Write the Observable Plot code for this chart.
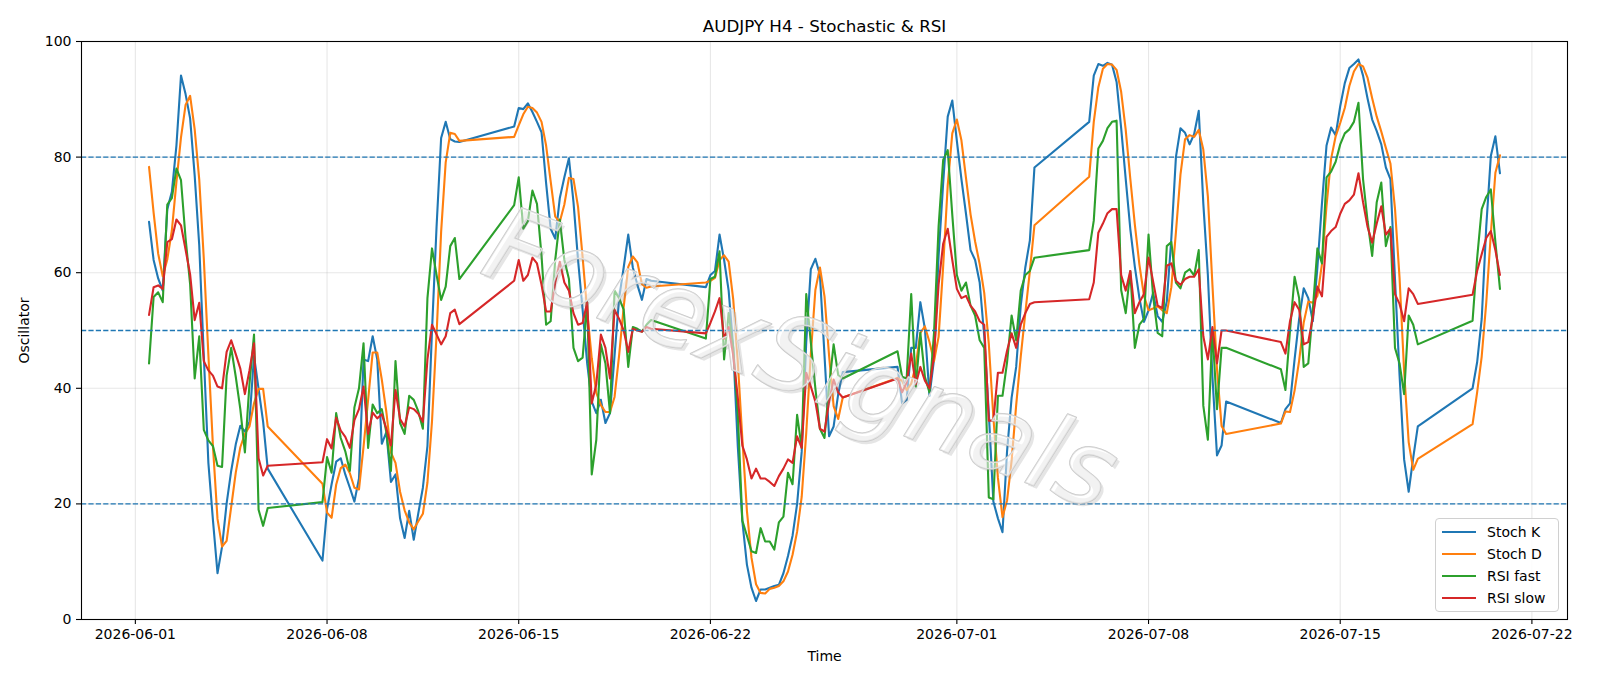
<!DOCTYPE html>
<html>
<head>
<meta charset="utf-8">
<script src="https://cdn.jsdelivr.net/npm/d3@7"></script>
<script src="https://cdn.jsdelivr.net/npm/@observablehq/plot@0.6"></script>
<style>
  html, body { margin: 0; padding: 0; background: white; }
  #wrap { position: relative; width: 1600px; height: 686px; font-family: "DejaVu Sans", sans-serif; }
  #legend { position: absolute; left: 1435px; top: 518px; width: 124px; height: 94px;
    border: 1px solid #d0d0d0; border-radius: 4px; background: rgba(255,255,255,0.85); box-sizing: border-box; }
  .row { position: absolute; left: 0; height: 20px; width: 124px; }
  .swatch { position: absolute; left: 6px; top: 9px; width: 34px; height: 0; border-top: 2px solid; }
  .lab { position: absolute; left: 51px; top: 0; font-size: 14px; line-height: 20px; color: #000; white-space: nowrap; }
</style>
</head>
<body>
<div id="wrap"></div>
<script>
// ---- data ----
const title = "AUDJPY H4 - Stochastic & RSI";
const yLabel = "Oscillator";
const xLabel = "Time";
const seriesNames = ["Stoch K", "Stoch D", "RSI fast", "RSI slow"];
const seriesColors = ["#1f77b4", "#ff7f0e", "#2ca02c", "#d62728"];
const levels = [20, 50, 80];
const yTicks = [0, 20, 40, 60, 80, 100];
const tickDates = ["2026-06-01", "2026-06-08", "2026-06-15", "2026-06-22", "2026-07-01", "2026-07-08", "2026-07-15", "2026-07-22"];
// H4 trading sessions: [first bar, number of bars]
const sessions = [
  ["2026-06-01T12:00Z", 27], ["2026-06-07T20:00Z", 31], ["2026-06-14T20:00Z", 31],
  ["2026-06-21T20:00Z", 31], ["2026-06-28T20:00Z", 31], ["2026-07-05T20:00Z", 31],
  ["2026-07-12T20:00Z", 31], ["2026-07-19T20:00Z", 7]
];
const stochK = [
  68.8, 62.2, 59.0, 56.9, 71.0, 74.0, 82.0, 94.1, 90.9, 86.7,
  76.8, 64.7, 45.6, 27.1, 17.2, 8.0, 12.6, 20.1, 25.7, 30.3,
  33.5, 32.5, 34.2, 45.6, 39.9, 34.2, 26.1,
  10.2, 19.1, 23.4, 27.3, 27.9, 25.1, 22.8, 20.4, 24.4, 45.0,
  44.7, 49.0, 45.0, 30.4, 32.4, 23.8, 25.1, 17.5, 14.1, 18.8,
  13.8, 18.4, 22.8, 30.0, 50.0, 68.0, 83.3, 86.1, 83.1, 82.7, 82.6,
  85.3, 88.5, 88.3, 89.3, 87.8, 86.1, 84.3, 75.5, 67.6, 65.9,
  72.9, 76.5, 79.8, 72.2, 62.2, 53.6, 44.3, 37.7, 35.7, 38.0,
  34.0, 35.7, 45.7, 55.6, 60.9, 66.6, 60.9, 57.9, 55.3, 58.9, 58.6,
  57.5, 59.6, 60.3, 66.6, 62.2, 56.9, 47.0, 30.0, 17.0, 9.5,
  5.5, 3.2, 5.2, 5.2, 5.5, 5.8, 6.0, 8.0, 11.0, 14.5,
  20.0, 29.0, 48.0, 60.6, 62.4, 59.6, 45.7, 31.7, 33.4, 39.0, 42.8,
  43.7, 37.4, 38.0, 47.0, 47.0, 54.9, 50.3, 38.7, 45.0, 62.9,
  75.5, 87.0, 89.8, 82.8, 76.2, 70.2, 63.9, 62.2, 58.3, 49.0,
  35.7, 20.4, 17.5, 15.1, 29.1, 38.4, 43.7, 54.3, 60.9, 65.6, 78.2,
  86.1, 94.1, 96.1, 95.8, 96.3, 96.0, 93.0, 85.0, 76.2, 67.6,
  61.0, 55.6, 51.5, 53.5, 56.5, 52.5, 51.5, 55.0, 66.0, 80.0,
  85.0, 84.2, 82.2, 84.0, 88.0, 72.0, 59.6, 42.0, 28.4, 30.1, 37.7,
  34.0, 36.4, 37.4, 45.0, 52.0, 57.3, 55.6, 51.6, 60.9, 72.0,
  82.0, 85.1, 83.8, 88.8, 92.8, 95.4, 96.1, 96.9, 94.1, 90.1,
  86.5, 84.5, 82.2, 78.2, 76.2, 58.9, 42.3, 27.7, 22.1, 28.0, 33.4,
  40.0, 44.5, 52.0, 68.0, 80.2, 83.6, 77.2
];
const stochD = [
  78.3, 70.4, 63.3, 59.4, 62.3, 67.3, 75.7, 83.4, 89.0, 90.6,
  84.8, 76.1, 62.4, 45.8, 30.0, 17.4, 12.6, 13.6, 19.5, 25.4,
  29.8, 32.1, 33.4, 37.4, 39.9, 39.9, 33.4,
  23.5, 18.5, 17.6, 23.3, 26.2, 26.8, 25.3, 22.8, 22.5, 29.9,
  38.0, 46.2, 46.2, 41.5, 35.9, 28.9, 27.1, 22.1, 18.9, 16.8,
  15.6, 17.0, 18.3, 23.7, 34.3, 49.3, 67.1, 79.1, 84.2, 84.0, 82.8,
  83.5, 85.5, 87.4, 88.7, 88.5, 87.7, 86.1, 82.0, 75.8, 69.7,
  68.8, 71.8, 76.4, 76.2, 71.4, 62.7, 53.4, 45.2, 39.2, 37.1,
  35.9, 35.9, 38.5, 45.7, 54.1, 61.0, 62.8, 61.8, 58.0, 57.4, 57.6,
  58.3, 58.6, 59.1, 62.2, 63.0, 61.9, 55.4, 44.6, 31.3, 18.8,
  10.7, 6.1, 4.6, 4.5, 5.3, 5.5, 5.8, 6.6, 8.3, 11.2,
  15.2, 21.2, 32.3, 45.9, 57.0, 60.9, 55.9, 45.7, 36.9, 34.7, 38.4,
  41.8, 41.3, 39.7, 40.8, 44.0, 49.6, 50.7, 48.0, 44.7, 48.9,
  61.1, 75.1, 84.1, 86.5, 82.9, 76.4, 70.1, 65.4, 61.5, 56.5,
  47.7, 35.0, 24.5, 17.7, 20.6, 27.5, 37.1, 45.5, 53.0, 60.3, 68.2,
  76.6, 86.1, 92.1, 95.3, 96.1, 96.0, 95.1, 91.3, 84.7, 76.3,
  68.3, 61.4, 56.0, 53.5, 53.8, 54.2, 53.5, 53.0, 57.5, 67.0,
  77.0, 83.1, 83.8, 83.5, 84.7, 81.3, 73.2, 57.9, 43.3, 33.5, 32.1,
  33.9, 36.0, 35.9, 39.6, 44.8, 51.4, 55.0, 54.8, 56.0, 61.5,
  71.6, 79.7, 83.6, 85.9, 88.5, 92.3, 94.8, 96.1, 95.7, 93.7,
  90.2, 87.0, 84.4, 81.6, 78.9, 71.1, 59.1, 43.0, 30.7, 25.9, 27.8,
  33.8, 39.3, 45.5, 54.8, 66.7, 77.3, 80.3
];
const rsiFast = [
  44.3, 55.8, 56.6, 54.9, 71.8, 72.9, 78.0, 76.0, 66.0, 58.0,
  41.7, 49.0, 32.8, 31.0, 30.0, 26.6, 26.4, 42.2, 47.0, 42.0,
  36.4, 28.9, 40.7, 49.3, 19.0, 16.2, 19.3,
  20.3, 28.1, 25.4, 35.7, 31.4, 29.1, 25.7, 36.7, 40.0, 47.8,
  29.7, 37.2, 35.7, 36.4, 32.4, 25.7, 44.7, 34.0, 32.1, 38.7,
  38.0, 36.0, 33.0, 55.6, 64.2, 59.6, 55.3, 57.6, 64.6, 66.0, 58.9,
  71.7, 76.5, 67.6, 68.9, 74.2, 71.9, 62.9, 51.0, 51.6, 62.2,
  69.2, 62.2, 58.9, 47.0, 44.7, 45.3, 54.9, 25.1, 31.1, 47.6,
  44.3, 35.7, 56.9, 55.6, 53.6, 43.7, 50.6, 50.3, 49.8, 51.0, 51.8,
  48.6, 58.9, 59.3, 63.7, 45.0, 53.0, 47.0, 35.7, 17.1, 14.5,
  11.8, 11.5, 15.8, 13.5, 13.5, 12.1, 16.8, 17.8, 25.4, 23.4,
  35.4, 29.7, 56.3, 48.0, 40.0, 33.0, 31.4, 40.3, 47.6, 42.3, 41.7,
  46.4, 42.0, 41.7, 56.3, 40.3, 49.6, 42.0, 39.3, 49.6, 68.0,
  79.5, 81.2, 70.0, 59.6, 56.9, 58.3, 54.3, 52.6, 48.3, 47.0,
  21.1, 20.8, 38.7, 38.7, 44.5, 52.6, 48.3, 56.9, 59.6, 60.3, 62.6,
  63.9, 69.0, 81.5, 82.8, 85.0, 86.1, 86.3, 57.0, 53.0, 60.3,
  47.0, 51.0, 52.0, 66.6, 56.0, 49.6, 49.0, 64.6, 65.3, 58.3,
  57.3, 60.0, 60.6, 59.5, 63.9, 37.0, 31.1, 50.0, 36.4, 47.0, 47.0,
  43.3, 39.7, 50.0, 59.3, 55.6, 43.7, 44.3, 53.6, 64.2, 61.6,
  76.5, 77.5, 79.2, 82.2, 84.1, 84.8, 86.1, 89.4, 76.2, 68.9,
  62.9, 72.2, 75.6, 64.6, 67.9, 47.0, 44.3, 39.0, 52.6, 51.0, 47.6,
  51.7, 62.5, 71.0, 73.1, 74.4, 65.3, 57.2
];
const rsiSlow = [
  52.7, 57.5, 57.8, 57.2, 65.3, 65.8, 69.2, 68.2, 64.0, 59.7,
  51.8, 54.8, 44.7, 43.1, 42.2, 40.3, 40.0, 46.3, 48.3, 45.9,
  43.4, 39.0, 43.1, 47.8, 27.9, 24.9, 26.6,
  27.2, 31.2, 29.6, 34.9, 32.7, 31.6, 29.7, 34.5, 36.4, 40.3,
  32.1, 35.8, 34.8, 35.5, 33.0, 30.1, 39.7, 34.7, 33.4, 36.7,
  36.4, 35.6, 34.2, 45.0, 51.0, 49.3, 47.6, 49.0, 53.0, 53.6, 51.1,
  58.6, 62.2, 58.6, 59.6, 62.6, 61.6, 57.9, 53.3, 53.3, 58.3,
  61.9, 58.3, 56.9, 53.0, 51.0, 51.3, 54.9, 37.4, 40.7, 49.3,
  47.0, 41.7, 53.6, 52.0, 50.0, 46.3, 50.3, 50.0, 49.8, 50.6, 50.3,
  49.5, 51.3, 53.3, 55.6, 48.6, 50.6, 45.7, 38.4, 30.1, 27.7,
  24.4, 26.1, 24.4, 24.4, 23.8, 23.1, 24.8, 26.1, 27.7, 27.1,
  31.7, 29.7, 42.7, 40.3, 37.7, 33.0, 32.5, 37.7, 41.5, 39.3, 38.4,
  41.7, 39.3, 41.0, 46.0, 40.7, 43.7, 41.3, 40.0, 45.7, 58.0,
  65.0, 67.6, 62.2, 57.2, 55.6, 56.0, 54.3, 53.3, 51.6, 51.0,
  34.4, 34.4, 42.7, 42.7, 46.5, 49.5, 47.0, 51.0, 53.0, 54.6, 54.9,
  55.4, 58.3, 66.9, 68.5, 70.3, 71.0, 71.0, 59.6, 56.9, 60.3,
  53.0, 54.9, 56.3, 62.6, 58.5, 54.3, 53.9, 61.2, 61.6, 58.6,
  57.9, 58.9, 59.3, 59.3, 60.6, 49.0, 45.0, 50.6, 44.3, 50.0, 50.0,
  48.0, 46.0, 51.6, 54.9, 53.6, 47.6, 48.0, 52.3, 57.6, 55.9,
  66.2, 67.2, 67.9, 70.2, 71.9, 72.5, 73.5, 77.2, 72.2, 67.9,
  65.2, 68.5, 71.5, 66.6, 67.6, 56.3, 54.6, 51.6, 57.3, 56.3, 54.6,
  56.2, 60.3, 63.2, 66.0, 67.2, 63.9, 59.6
];
const watermark = "ForexSignals";

// ---- build ----
const times = [];
for (const [start, n] of sessions) {
  const t0 = Date.parse(start);
  for (let k = 0; k < n; k++) times.push(new Date(t0 + k * 4 * 3600e3));
}
const seriesValues = [stochK, stochD, rsiFast, rsiSlow];
const t0 = +times[0], t1 = +times[times.length - 1];
const pad = (t1 - t0) * 0.05;
const xDomain = [new Date(t0 - pad), new Date(t1 + pad)];
const ticks = tickDates.map(s => new Date(s + "T00:00Z"));

const lineMarks = seriesValues.map((vals, s) =>
  Plot.line(vals.map((v, i) => ({t: times[i], v})), {
    x: "t", y: "v", stroke: seriesColors[s], strokeWidth: 2.1
  })
);

const chart = Plot.plot({
  width: 1600, height: 686,
  marginLeft: 81, marginRight: 33, marginTop: 41, marginBottom: 67,
  style: {fontFamily: "DejaVu Sans, sans-serif", fontSize: "14px", background: "white", color: "black", overflow: "visible"},
  x: {type: "utc", domain: xDomain},
  y: {domain: [0, 100]},
  marks: [
    Plot.gridX(ticks, {stroke: "#b0b0b0", strokeOpacity: 0.3, strokeWidth: 1.1}),
    Plot.gridY(yTicks, {stroke: "#b0b0b0", strokeOpacity: 0.3, strokeWidth: 1.1}),
    ...lineMarks,
    Plot.ruleY(levels, {stroke: "#1f77b4", strokeWidth: 1.4, strokeDasharray: "5.2,2.2"}),
    Plot.text([watermark], {frameAnchor: "middle", dx: -21, dy: 33, rotate: 21, fontSize: 104, fontStyle: "italic",
      lineAnchor: "middle", fill: "#8a8a8a", fillOpacity: 0.22, text: d => d}),
    Plot.text([watermark], {frameAnchor: "middle", dx: -24, dy: 30, rotate: 21, fontSize: 104, fontStyle: "italic",
      lineAnchor: "middle", fill: "white", fillOpacity: 0.5, stroke: "#c8c8c8", strokeWidth: 1.5, text: d => d}),
    Plot.frame({stroke: "black", strokeWidth: 1.1}),
    Plot.axisX({ticks, tickFormat: d3.utcFormat("%Y-%m-%d"), tickSize: 5, tickPadding: 5, label: null, strokeWidth: 1.1}),
    Plot.axisY({ticks: yTicks, tickSize: 5, tickPadding: 5, label: null, strokeWidth: 1.1}),
    Plot.text([title], {frameAnchor: "top", dy: -14.5, lineAnchor: "middle", textAnchor: "middle", fontSize: 16.7, text: d => d}),
    Plot.text([yLabel], {frameAnchor: "left", dx: -57, rotate: -90, lineAnchor: "middle", textAnchor: "middle", fontSize: 14, text: d => d}),
    Plot.text([xLabel], {frameAnchor: "bottom", dy: 37, lineAnchor: "middle", textAnchor: "middle", fontSize: 14, text: d => d})
  ]
});
const wrap = document.getElementById("wrap");
wrap.appendChild(chart);

// legend
const leg = document.createElement("div");
leg.id = "legend";
seriesNames.forEach((name, i) => {
  const row = document.createElement("div");
  row.className = "row";
  row.style.top = (3 + i * 22) + "px";
  const sw = document.createElement("div");
  sw.className = "swatch";
  sw.style.borderTopColor = seriesColors[i];
  const lab = document.createElement("div");
  lab.className = "lab";
  lab.textContent = name;
  row.appendChild(sw); row.appendChild(lab);
  leg.appendChild(row);
});
wrap.appendChild(leg);
</script>
</body>
</html>
